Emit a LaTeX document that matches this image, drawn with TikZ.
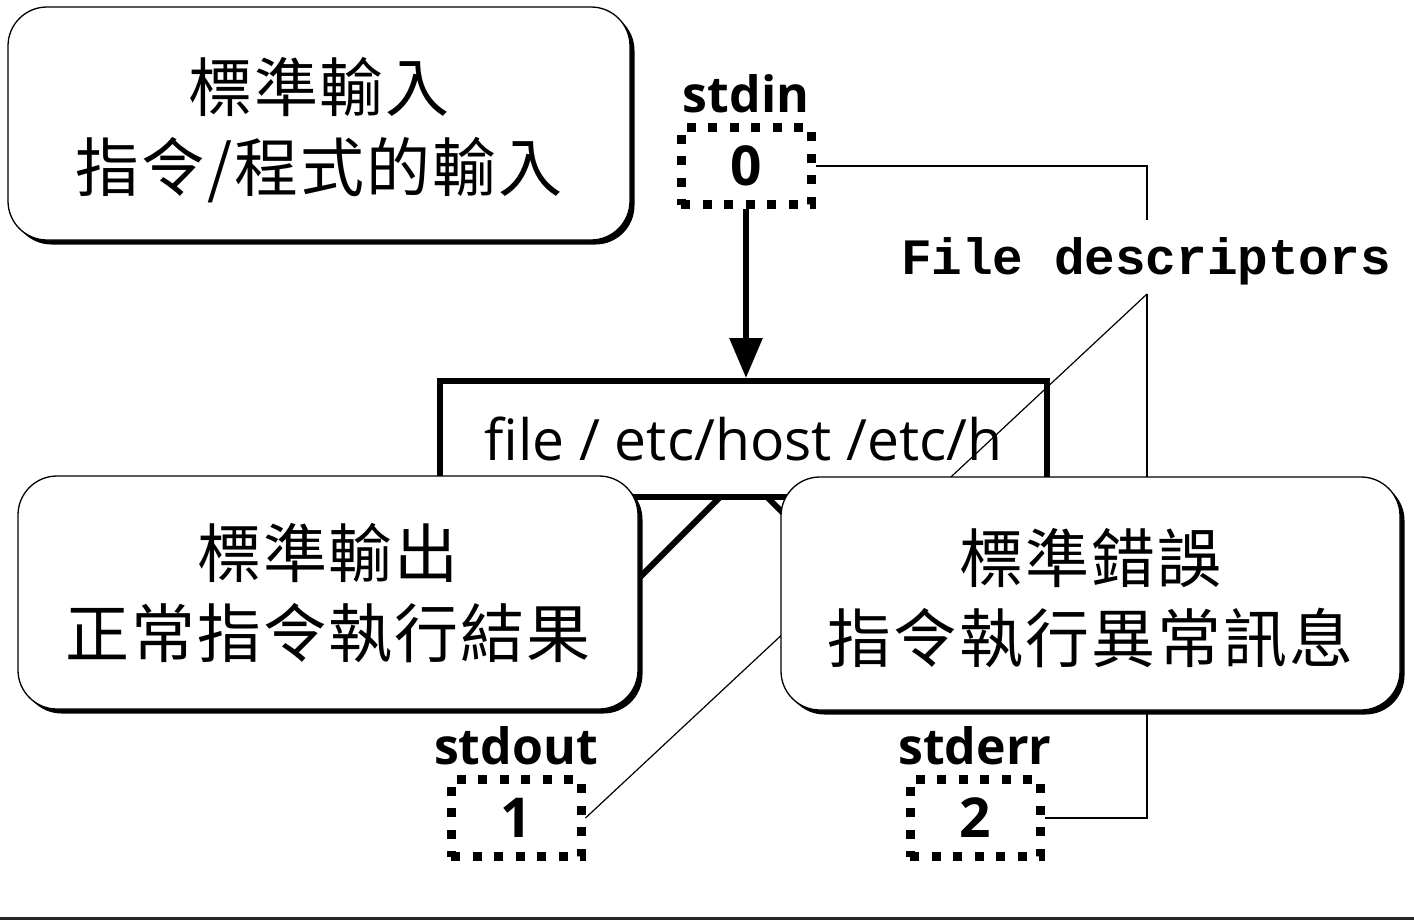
\documentclass[tikz,border=0pt]{standalone}
\usepackage{fontspec}
\setmainfont{Open Sans}
\newfontfamily\cjk{Noto Sans CJK TC}[LetterSpace=3]
\newfontfamily\codefont{Liberation Mono}
\usetikzlibrary{arrows.meta,shadows,positioning}

\tikzset{
  note/.style={draw, line width=1.3pt, rounded corners=39pt, fill=white,
    minimum width=620pt, minimum height=233pt,
    drop shadow={shadow xshift=4.5pt, shadow yshift=-4.5pt, fill=black, opacity=1}},
  notetext/.style={align=center, inner sep=0pt,
    font=\cjk\fontsize{64}{80}\selectfont},
  fdbox/.style={draw, line width=9pt, dash pattern=on 9pt off 12.5pt,
    minimum width=130pt, minimum height=77pt, inner sep=0pt,
    font=\bfseries\fontsize{55}{60}\selectfont},
  fdname/.style={inner sep=0pt, font=\bfseries\fontsize{50}{56}\selectfont},
  cmdbox/.style={draw, line width=6pt, minimum width=607pt, minimum height=116pt,
    inner sep=0pt, font=\fontsize{57}{64}\selectfont},
  heavy/.style={line width=6pt},
  hair/.style={line width=1.2pt},
}

\begin{document}
\begin{tikzpicture}[x=1pt,y=-1pt]
\useasboundingbox (0,0) rectangle (1414,921);

% command and its input descriptor
\node[cmdbox] (cmd) at (743.5,439) {file / etc/host /etc/h};
\node[fdbox] (d0) at (746,166) {0};
\node[fdname, above=10pt of d0] (l0) {stdin};
\draw[heavy, -{Triangle[length=40pt,width=32pt]}] (d0.south) -- (d0.south |- cmd.north);

% output streams leaving the command
\coordinate (outhid) at (600,617);
\coordinate (errhid) at (880,610);
\draw[heavy] ([xshift=-23.5pt,yshift=3pt]cmd.south) -- (outhid);
\draw[heavy] ([xshift=23.5pt,yshift=3pt]cmd.south) -- (errhid);

% output descriptors
\node[fdbox] (d1) at (516,818) {1};
\node[fdname, above=10pt of d1] (l1) {stdout};
\node[fdbox] (d2) at (975,818) {2};
\node[fdname, above=10pt of d2] (l2) {stderr};

% callout naming the descriptors
\node[anchor=base, inner sep=0pt, font=\codefont\bfseries\fontsize{51}{56}\selectfont]
  (fd) at (1146,274) {File descriptors};
\coordinate (fdtop) at (1147,220);
\coordinate (fdbot) at (1147,294);
\draw[hair] (d0.east) -| (fdtop);
\draw[hair] (fdbot) -- (d1.east);
\draw[hair] (fdbot) |- (d2.east);

% explanation boxes
\node[note, minimum width=622pt] (in) at (319,123.5) {};
\node[notetext] (intext) at ([yshift=-7pt]in.center) {標準輸入\\指令/程式的輸入};
\node[note] (out) at (328,592.5) {};
\node[notetext] (outtext) at ([yshift=-1pt]out.center) {標準輸出\\正常指令執行結果};
\node[note, minimum width=619pt] (err) at (1090.5,593.5) {};
\node[notetext] (errtext) at ([yshift=-5pt]err.center) {標準錯誤\\指令執行異常訊息};

% rule along the bottom
\draw[line width=3pt, black!85] (0,918.5) -- (1414,918.5);
\end{tikzpicture}
\end{document}
